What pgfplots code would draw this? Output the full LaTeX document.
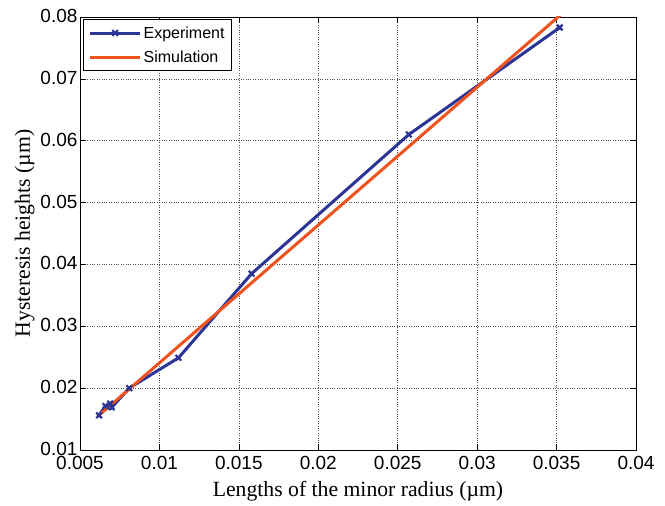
\documentclass[border=0pt]{standalone}
\usepackage{fontspec}
\setmainfont{Liberation Serif}
\setsansfont{Liberation Sans}
\usepackage{pgfplots}
\pgfplotsset{compat=1.18}
\definecolor{expblue}{RGB}{43,53,150}
\definecolor{simred}{RGB}{240,82,30}
\begin{document}
\begin{tikzpicture}
\begin{axis}[
  scale only axis, width=556pt, height=433pt,
  xmin=0.005, xmax=0.04, ymin=0.01, ymax=0.08,
  xtick={0.005,0.01,0.015,0.02,0.025,0.03,0.035,0.04},
  xticklabels={0.005,0.01,0.015,0.02,0.025,0.03,0.035,0.04},
  ytick={0.01,0.02,0.03,0.04,0.05,0.06,0.07,0.08},
  yticklabels={0.01,0.02,0.03,0.04,0.05,0.06,0.07,0.08},
  scaled ticks=false,
  tick label style={font=\sffamily\fontsize{19}{20}\selectfont},
  xticklabel style={yshift=-3pt},
  yticklabel style={xshift=1pt, yshift=1pt},
  tick align=inside, major tick length=6pt,
  tick style={black, line width=0.6pt},
  axis line style={line width=0.8pt},
  grid=major, grid style={dotted, black!70, line width=0.7pt},
  xlabel={Lengths of the minor radius (\textmu m)},
  ylabel={Hysteresis heights (\textmu m)},
  label style={font=\fontsize{21.7}{23}\selectfont},
  xlabel style={yshift=-4pt},
  ylabel style={yshift=-1pt},
  legend style={at={(0.006,0.995)}, anchor=north west, draw=black, line width=0.6pt,
    font=\sffamily\fontsize{16}{17}\selectfont, row sep=7pt, inner xsep=5pt, inner ysep=5pt},
  legend cell align=left,
  legend image code/.code={\draw[mark repeat=2,mark phase=2] plot coordinates {(0pt,0pt) (25pt,0pt) (50pt,0pt)};},
]
\addplot[expblue, line width=3pt, mark=x, mark size=4pt, mark options={line width=2.2pt}]
coordinates {
(0.0062,0.0156)
(0.0066,0.0171)
(0.0069,0.0175)
(0.0070,0.0169)
(0.0081,0.0200)
(0.0112,0.0249)
(0.0158,0.0385)
(0.0257,0.0610)
(0.0352,0.0783)
};
\addlegendentry{Experiment}
\addplot[simred, line width=3pt] coordinates {
(0.0061,0.0154)
(0.0355,0.0809)
};
\addlegendentry{Simulation}
\end{axis}
\path (current axis.south west) ++(-80pt,-55pt) coordinate (a);
\path (current axis.north east) ++(29pt,17pt) coordinate (b);
\path (a) rectangle (b);
\end{tikzpicture}
\end{document}
